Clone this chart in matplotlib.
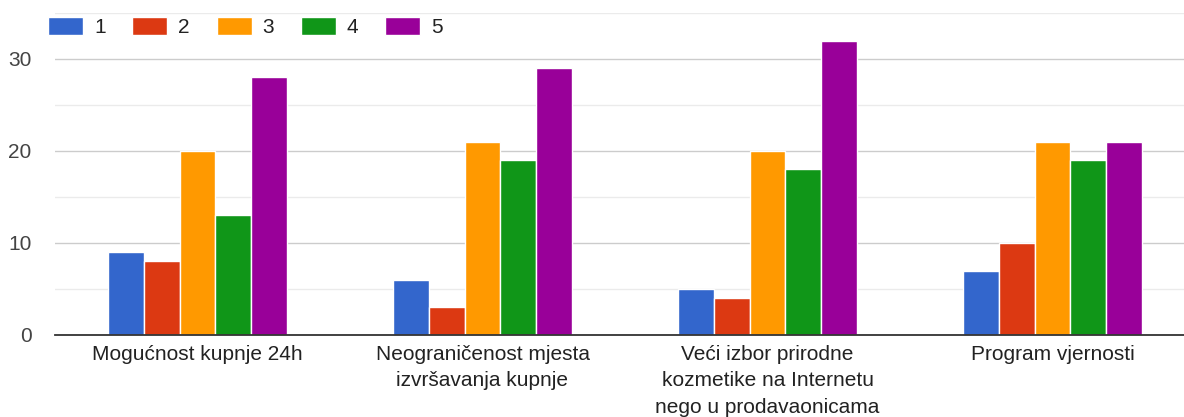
import matplotlib
matplotlib.use("Agg")
import matplotlib.pyplot as plt
import numpy as np

categories = ["Mogućnost kupnje 24h",
              "Neograničenost mjesta\nizvršavanja kupnje",
              "Veći izbor prirodne\nkozmetike na Internetu\nnego u prodavaonicama",
              "Program vjernosti"]
series_names = ["1", "2", "3", "4", "5"]
s1 = [9, 6, 5, 7]
s2 = [8, 3, 4, 10]
s3 = [20, 21, 20, 21]
s4 = [13, 19, 18, 19]
s5 = [28, 29, 32, 21]
series = [s1, s2, s3, s4, s5]
colors = ["#3366cc", "#dc3912", "#ff9900", "#109618", "#990099"]

plt.rcParams['font.family'] = ['Liberation Sans', 'DejaVu Sans']
fig = plt.figure(figsize=(11.84, 4.17), dpi=100)
ax = fig.add_axes([55/1184, 1-335/417, 1-55/1184, 322/417])

x = np.arange(len(categories))
bw = 0.125
for i, (vals, c, name) in enumerate(zip(series, colors, series_names)):
    ax.bar(x + (i - 2) * bw, vals, width=bw, color=c, edgecolor="white",
           linewidth=1, label=name, zorder=3)

ax.set_xlim(-0.5, -0.5 + 1129/285)
ax.set_ylim(0, 35)
ax.set_yticks([0, 10, 20, 30])
ax.set_yticks([5, 15, 25, 35], minor=True)
ax.yaxis.grid(True, which='major', color="#cccccc", linewidth=1, zorder=0)
ax.yaxis.grid(True, which='minor', color="#ebebeb", linewidth=1, zorder=0)
ax.set_xticks(x)
ax.set_xticklabels(categories, fontsize=15, color="#222222", linespacing=1.5)
ax.tick_params(axis='x', length=0, pad=7)
ax.tick_params(axis='y', which='both', length=0, labelsize=15, labelcolor="#444444", pad=17)
for s in ["top", "right", "left"]:
    ax.spines[s].set_visible(False)
ax.spines["bottom"].set_color("#333333")
ax.spines["bottom"].set_linewidth(1.3)
ax.spines["bottom"].set_zorder(4)

leg = fig.legend(loc="upper left", bbox_to_anchor=(48/1184, 1-17/417), ncol=5,
                 frameon=False, fontsize=15, handlelength=1.68, handleheight=0.95,
                 handletextpad=0.53, columnspacing=1.28, borderaxespad=0,
                 borderpad=0)
for t in leg.get_texts():
    t.set_color("#222222")

fig.savefig("out.png", dpi=100)
